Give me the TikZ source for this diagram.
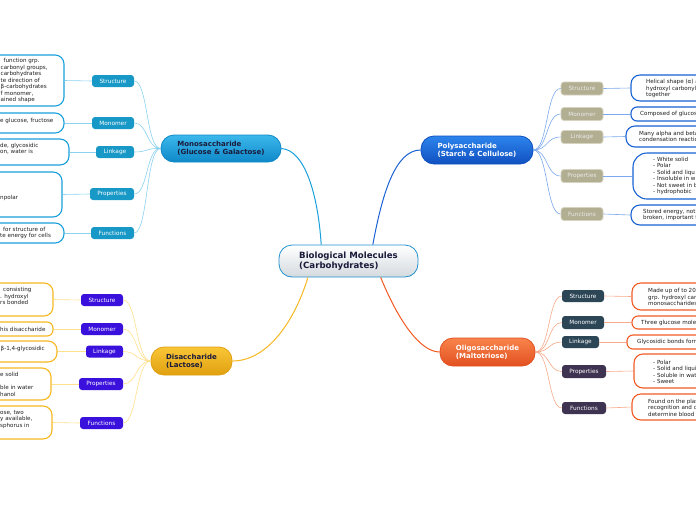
\documentclass[tikz,border=0pt]{standalone}
\usepackage{fontspec}
\setmainfont{DejaVu Sans}
\definecolor{monoC}{HTML}{1AA0DC}
\definecolor{monoT}{HTML}{3CB8EC}
\definecolor{monoB}{HTML}{0E88C8}
\definecolor{monoSub}{HTML}{1898C6}
\definecolor{monoLine}{HTML}{8AD2F0}
\definecolor{polyC}{HTML}{1A62D4}
\definecolor{polyT}{HTML}{2C84EC}
\definecolor{polyB}{HTML}{1050C0}
\definecolor{polySub}{HTML}{B2AE92}
\definecolor{polySubD}{HTML}{D6D3C0}
\definecolor{polyLine}{HTML}{7CA8EE}
\definecolor{diC}{HTML}{F5B820}
\definecolor{diT}{HTML}{F9C636}
\definecolor{diB}{HTML}{E0A010}
\definecolor{diSub}{HTML}{3A10DC}
\definecolor{diLine}{HTML}{FFE08C}
\definecolor{olC}{HTML}{F25A24}
\definecolor{olT}{HTML}{F8844A}
\definecolor{olB}{HTML}{E25020}
\definecolor{olSubA}{HTML}{2C4656}
\definecolor{olSubB}{HTML}{3E3350}
\definecolor{olLine}{HTML}{F8AA8A}
\definecolor{cenC}{HTML}{2090D0}
\definecolor{cenB}{HTML}{D4DADF}
\definecolor{darktxt}{HTML}{1A1A3A}
\begin{document}
\begin{tikzpicture}[x=1pt,y=-1pt,
  main/.style={rounded corners=13pt, draw, line width=0.8pt, font=\fontsize{7}{8.2}\selectfont\bfseries, align=left, inner sep=0},
  subt/.style={rounded corners=3pt, font=\fontsize{5.8}{6.5}\selectfont, text=white, inner sep=0, minimum height=12pt},
  leaf/.style={draw, line width=1.1pt, rounded corners=9pt, fill=white, inner sep=0},
  ltxt/.style={font=\fontsize{5.6}{6.5}\selectfont, align=left, inner sep=0, anchor=west, text=black!88},
  mline/.style={line width=1pt},
  sline/.style={line width=0.6pt},
]
\useasboundingbox (0,0) rectangle (696,520);
\fill[white] (0,0) rectangle (696,520);
\begin{scope}
\clip (0,0) rectangle (696,520);

% ---------- main topics ----------
\node[main, draw=cenC, top color=white, bottom color=cenB, text=darktxt, font=\fontsize{8.6}{10}\selectfont\bfseries, minimum width=139pt, minimum height=32pt] (c) at (348.5,261) {Biological Molecules\\(Carbohydrates)};
\node[main, draw=monoB, top color=monoT, bottom color=monoB, text=darktxt, minimum width=120pt, minimum height=27pt] (mono) at (221,148.5) {Monosaccharide\\(Glucose \& Galactose)};
\node[main, draw=polyB, top color=polyT, bottom color=polyB, text=white, minimum width=112pt, minimum height=28pt] (poly) at (477,150) {Polysaccharide\\(Starch \& Cellulose)};
\node[main, draw=diB, top color=diT, bottom color=diB, text=darktxt, minimum width=81pt, minimum height=28pt] (di) at (191.5,361) {Disaccharide\\(Lactose)\hspace{10pt}};
\node[main, draw=olB, top color=olT, bottom color=olB, text=white, minimum width=95pt, minimum height=28pt] (ol) at (487.5,352) {Oligosaccharide\\(Maltotriose)\hspace{14pt}};

\draw[mline, monoC] (c.149) .. controls (318,195) and (305,150) .. (mono.east);
\draw[mline, polyC] (c.34) .. controls (382,195) and (395,150) .. (poly.west);
\draw[mline, diC] (c.202) .. controls (295,320) and (268,361) .. (di.east);
\draw[mline, olC] (c.333) .. controls (398,320) and (420,352) .. (ol.west);

% ---------- Monosaccharide ----------
\node[subt, fill=monoSub, minimum width=42pt] (ms) at (113,81) {Structure};
\node[subt, fill=monoSub, minimum width=42pt] (mm) at (113,123) {Monomer};
\node[subt, fill=monoSub, minimum width=38pt] (ml) at (115,152) {Linkage};
\node[subt, fill=monoSub, minimum width=44pt] (mp) at (112,194) {Properties};
\node[subt, fill=monoSub, minimum width=43pt] (mf) at (112.5,233) {Functions};
\foreach \s in {ms,mm,ml,mp,mf}{
  \draw[sline, monoLine] (mono.west) .. controls (146,148) and (148,0|-\s.east) .. (\s.east);
}
\node[leaf, draw=monoC, minimum width=104pt, minimum height=51pt] (msl) at (12,80.5) {};
\node[leaf, draw=monoC, minimum width=104pt, minimum height=20pt] (mml) at (12,123) {};
\node[leaf, draw=monoC, minimum width=109pt, minimum height=26pt] (mll) at (14.5,152) {};
\node[leaf, draw=monoC, minimum width=102pt, minimum height=45pt] (mpl) at (11,194.5) {};
\node[leaf, draw=monoC, minimum width=104pt, minimum height=20pt] (mfl) at (12,233) {};
\foreach \a/\b in {ms/msl,mm/mml,ml/mll,mp/mpl,mf/mfl}{
  \draw[sline, monoLine] (\a.west) -- (\b.east);
}
\node[ltxt] (mst) at (0.5,80.5) {\hspace{3pt}function grp.\\carbonyl groups,\\carbohydrates\\te direction of\\β-carbohydrates\\f monomer,\\ained shape};
\node[ltxt] (mmt) at (0,121) {e glucose, fructose};
\node[ltxt] (mlt) at (0,148.5) {de, glycosidic\\on, water is};
\node[ltxt] (mpt) at (0,198) {npolar};
\node[ltxt] (mft) at (0,233) {\hspace{3pt}for structure of\\te energy for cells};

% ---------- Disaccharide ----------
\node[subt, fill=diSub, minimum width=42pt] (ds) at (102,300) {Structure};
\node[subt, fill=diSub, minimum width=42pt] (dm) at (102,329) {Monomer};
\node[subt, fill=diSub, minimum width=37pt] (dl) at (104.5,351.5) {Linkage};
\node[subt, fill=diSub, minimum width=44pt] (dp) at (101,384) {Properties};
\node[subt, fill=diSub, minimum width=43pt] (df) at (101.5,423) {Functions};
\foreach \s in {ds,dm,dl,dp,df}{
  \draw[sline, diLine] (di.west) .. controls (136,361) and (137,0|-\s.east) .. (\s.east);
}
\node[leaf, draw=diC, minimum width=93pt, minimum height=33pt] (dsl) at (6.5,299.5) {};
\node[leaf, draw=diC, minimum width=93pt, minimum height=14pt, rounded corners=6pt] (dml) at (6.5,329) {};
\node[leaf, draw=diC, minimum width=97pt, minimum height=21pt] (dll) at (8.5,351.5) {};
\node[leaf, draw=diC, minimum width=91pt, minimum height=32pt] (dpl) at (5.5,384) {};
\node[leaf, draw=diC, minimum width=92pt, minimum height=33pt] (dfl) at (6,422.5) {};
\foreach \a/\b in {ds/dsl,dm/dml,dl/dll,dp/dpl,df/dfl}{
  \draw[sline, diLine] (\a.west) -- (\b.east);
}
\node[ltxt] (dst) at (0,296) {\hspace{3pt}consisting\\. hydroxyl\\rs bonded};
\node[ltxt] (dmt) at (0,329) {his disaccharide};
\node[ltxt] (dlt) at (0.5,349) {β-1,4-glycosidic};
\node[ltxt] (dpt) at (0,384.5) {e solid\\~\\ble in water\\hanol};
\node[ltxt] (dft) at (0,419.5) {ose, two\\y available,\\sphorus in};

% ---------- Polysaccharide ----------
\node[subt, fill=polySub, draw=polySubD, line width=0.8pt, text=white!92!black, minimum width=42pt, minimum height=13pt] (ps) at (582,88.5) {Structure};
\node[subt, fill=polySub, draw=polySubD, line width=0.8pt, text=white!92!black, minimum width=42pt, minimum height=13pt] (pm) at (582,114) {Monomer};
\node[subt, fill=polySub, draw=polySubD, line width=0.8pt, text=white!92!black, minimum width=42pt, minimum height=13pt] (pl) at (582,137) {Linkage};
\node[subt, fill=polySub, draw=polySubD, line width=0.8pt, text=white!92!black, minimum width=42pt, minimum height=13pt] (pp) at (582,176) {Properties};
\node[subt, fill=polySub, draw=polySubD, line width=0.8pt, text=white!92!black, minimum width=42pt, minimum height=13pt] (pf) at (582,214) {Functions};
\foreach \s in {ps,pm,pl,pp,pf}{
  \draw[sline, polyLine] (poly.east) .. controls (548,150) and (546,0|-\s.west) .. (\s.west);
}
\node[leaf, draw=polyC, minimum width=109pt, minimum height=26pt] (psl) at (685.5,88) {};
\node[leaf, draw=polyC, minimum width=109pt, minimum height=14pt, rounded corners=6pt] (pml) at (685.5,114) {};
\node[leaf, draw=polyC, minimum width=114pt, minimum height=21pt] (pll) at (683,136.5) {};
\node[leaf, draw=polyC, minimum width=107pt, minimum height=46pt, rounded corners=14pt] (ppl) at (686.5,176) {};
\node[leaf, draw=polyC, minimum width=109pt, minimum height=20pt] (pfl) at (685.5,215) {};
\foreach \a/\b in {ps/psl,pm/pml,pl/pll,pp/ppl,pf/pfl}{
  \draw[sline, polyLine] (\a.east) -- (\b.west);
}
\node[ltxt] (pst) at (646,88.5) {Helical shape (α) a\\hydroxyl carbonyl\\together};
\node[ltxt] (pmt) at (640,114) {Composed of glucos};
\node[ltxt] (plt) at (639,136.5) {Many alpha and beta\\condensation reactio};
\node[ltxt] (ppt) at (653,176) {- White solid\\- Polar\\- Solid and liqu\\- Insoluble in w\\- Not sweet in b\\- hydrophobic};
\node[ltxt] (pft) at (643,215) {Stored energy, not\\broken, important f};

% ---------- Oligosaccharide ----------
\node[subt, fill=olSubA, minimum width=42pt] (os) at (583,296) {Structure};
\node[subt, fill=olSubA, minimum width=42pt, minimum height=13pt] (om) at (583,322.5) {Monomer};
\node[subt, fill=olSubA, minimum width=37pt] (oli) at (580.5,342) {Linkage};
\node[subt, fill=olSubB, minimum width=44pt, minimum height=13pt] (op) at (584,371.5) {Properties};
\node[subt, fill=olSubB, minimum width=44pt] (of) at (584,408) {Functions};
\foreach \s in {os,om,oli,op,of}{
  \draw[sline, olLine] (ol.east) .. controls (550,352) and (548,0|-\s.west) .. (\s.west);
}
\node[leaf, draw=olC, minimum width=108pt, minimum height=27pt] (osl) at (686,296.5) {};
\node[leaf, draw=olC, minimum width=108pt, minimum height=13pt, rounded corners=6pt] (oml) at (686,322.5) {};
\node[leaf, draw=olC, minimum width=113pt, minimum height=14pt, rounded corners=6pt] (oll) at (683.5,342) {};
\node[leaf, draw=olC, minimum width=106pt, minimum height=34pt] (opl) at (687,371) {};
\node[leaf, draw=olC, minimum width=108pt, minimum height=26pt] (ofl) at (686,407) {};
\foreach \a/\b in {os/osl,om/oml,oli/oll,op/opl,of/ofl}{
  \draw[sline, olLine] (\a.east) -- (\b.west);
}
\node[ltxt] (ost) at (648,297) {Made up of to 20\\grp. hydroxyl carb\\monosaccharides};
\node[ltxt] (omt) at (641,322.5) {Three glucose mole};
\node[ltxt] (olt) at (637,342) {Glycosidic bonds form};
\node[ltxt] (opt) at (653,372) {- Polar\\- Solid and liqui\\- Soluble in wat\\- Sweet};
\node[ltxt] (oft) at (648,407.5) {Found on the plas\\recognition and c\\determine blood t};
\end{scope}
\end{tikzpicture}
\end{document}
